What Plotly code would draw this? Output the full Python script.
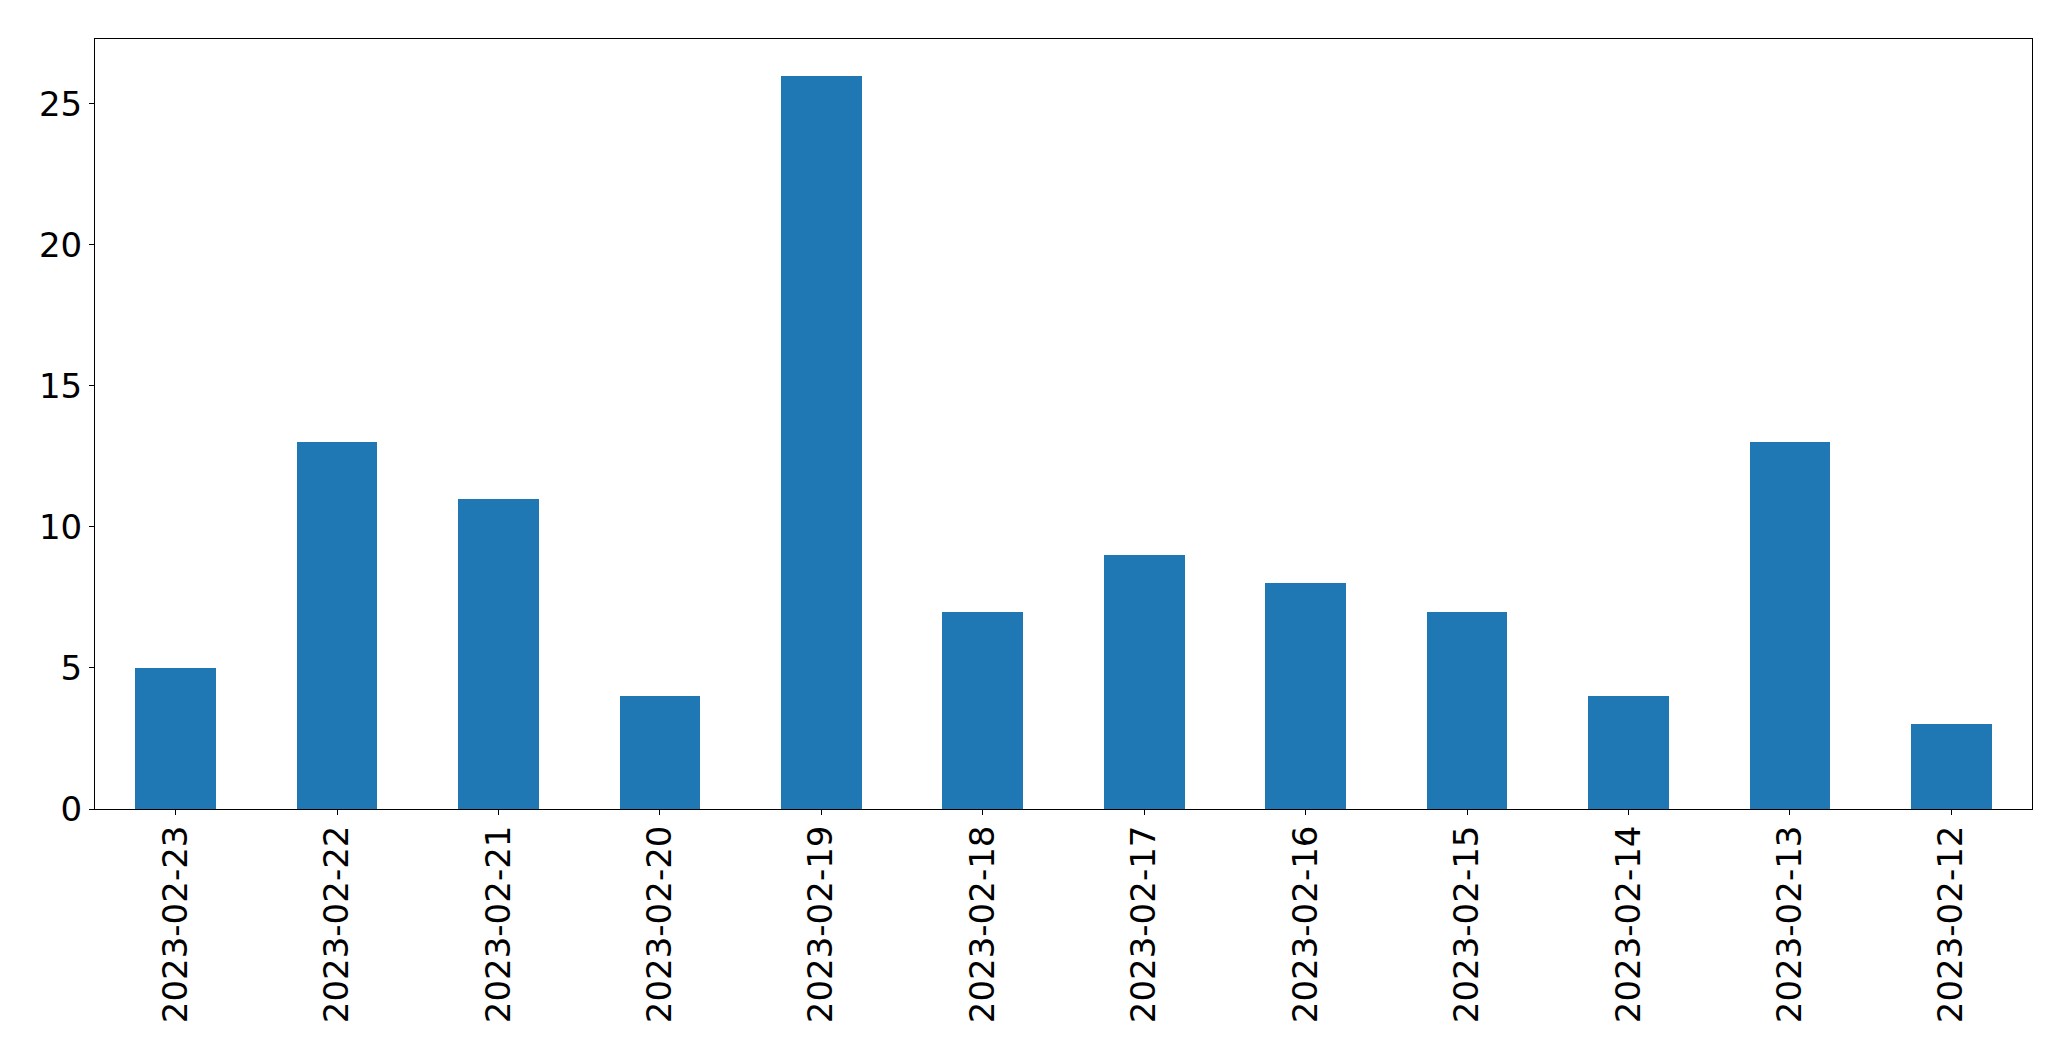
import plotly.graph_objects as go

dates = ["2023-02-23", "2023-02-22", "2023-02-21", "2023-02-20", "2023-02-19", "2023-02-18",
         "2023-02-17", "2023-02-16", "2023-02-15", "2023-02-14", "2023-02-13", "2023-02-12"]
counts = [5, 13, 11, 4, 26, 7, 9, 8, 7, 4, 13, 3]

fig = go.Figure(go.Bar(x=dates, y=counts, width=0.5, marker=dict(color="#1f77b4", line=dict(width=0))))

font = dict(family="DejaVu Sans", size=34, color="black")
fig.update_layout(
    width=2055, height=1045,
    margin=dict(l=87, r=31, t=31, b=244, autoexpand=False),
    paper_bgcolor="white", plot_bgcolor="white",
    font=font, showlegend=False,
    bargap=0,
)
fig.update_xaxes(type="category", range=[-0.5, 11.5], tickangle=-90,
                 showline=True, linecolor="black", linewidth=1, mirror=True,
                 ticks="outside", ticklen=5, tickwidth=1, tickcolor="black",
                 ticklabelstandoff=-3,
                 showgrid=False, zeroline=False, tickfont=font)
fig.update_yaxes(range=[0, 27.3], tickvals=[0, 5, 10, 15, 20, 25],
                 showline=True, linecolor="black", linewidth=1, mirror=True,
                 ticks="outside", ticklen=5, tickwidth=1, tickcolor="black",
                 showgrid=False, zeroline=False, tickfont=font)

fig.write_html("out.html")
